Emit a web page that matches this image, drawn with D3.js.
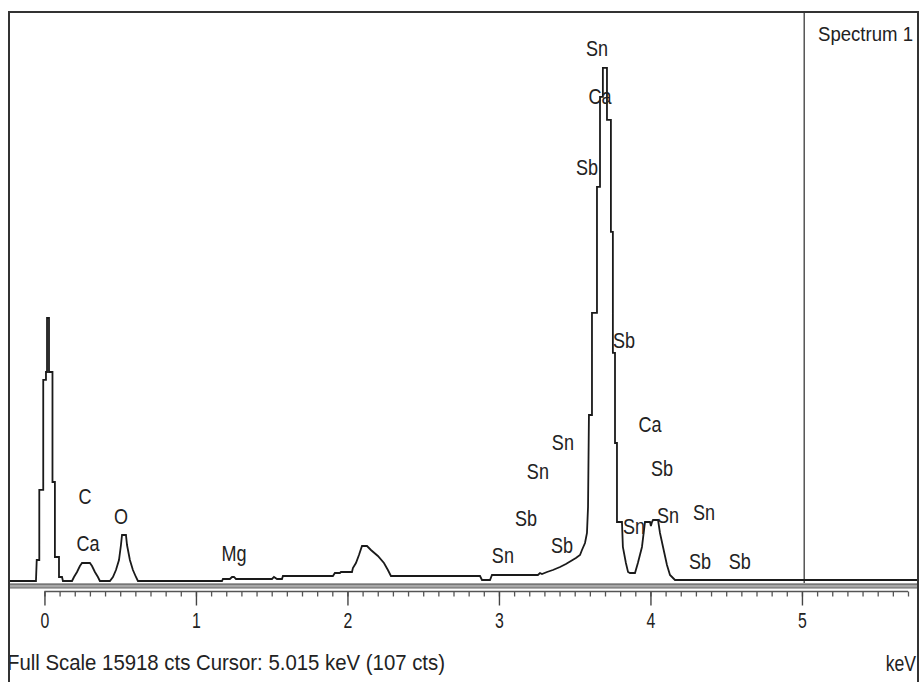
<!DOCTYPE html>
<html>
<head>
<meta charset="utf-8">
<script src="https://cdn.jsdelivr.net/npm/d3@7"></script>
<style>
  html, body { margin: 0; padding: 0; background: #fff; }
  svg { display: block; }
  text { font-family: "Liberation Sans", Arial, sans-serif; fill: #222; }
</style>
</head>
<body>
<svg id="chart" width="921" height="682"></svg>
<script>
// ---- Data ----
const energyKeV = [-0.228,-0.056,-0.051,-0.034,-0.034,-0.008,-0.008,0.010,0.010,0.017,0.017,0.030,0.030,0.053,0.053,0.069,0.069,0.096,0.096,0.116,0.122,
  0.182,0.195,0.215,0.234,0.248,0.300,0.314,0.333,0.353,0.366,
  0.432,0.452,0.472,0.492,0.505,0.512,0.538,0.545,0.564,0.584,0.604,0.617,
  1.172,1.178,1.224,1.238,1.251,1.264,1.502,1.515,1.535,1.568,1.574,1.904,1.917,1.950,1.957,2.030,
  2.036,2.056,2.076,2.096,2.129,2.155,2.201,2.241,2.267,2.287,
  2.875,2.888,2.941,2.954,3.257,3.271,3.284,3.317,3.356,3.403,3.442,3.475,3.508,3.535,3.548,3.568,3.581,
  3.588,3.594,3.614,3.614,3.647,3.647,3.667,3.667,3.686,3.686,3.713,3.713,3.739,3.739,3.752,3.752,3.766,3.766,3.779,3.779,3.812,
  3.818,3.838,3.852,3.865,3.898,3.917,3.944,3.964,3.997,4.003,4.010,4.017,4.050,4.063,4.083,4.109,4.129,4.162,5.766];
const counts = [28,28,614,614,2570,2570,5642,5642,5865,5865,7373,7373,5865,5865,2793,2793,698,698,140,140,28,
  28,140,279,447,531,531,447,279,140,28,
  28,140,335,614,1033,1313,1313,1033,614,335,140,28,
  28,84,84,140,140,84,84,140,84,84,168,168,251,251,279,279,
  391,531,754,1005,1005,894,726,531,335,168,
  168,56,56,196,196,251,223,279,335,419,503,587,670,754,894,1089,1369,
  2095,4664,4664,7513,7513,11032,11032,13546,13546,14355,14355,12903,12903,9775,9775,6396,6396,3882,3882,1676,1676,
  978,531,279,251,251,531,978,1676,1676,1564,1676,1732,1732,1369,978,475,196,56,56];

const labelText   = ["Sn","Ca","Sb","Sb","Ca","Sb","Sn","Sn","Sn","Sb","Sb","Sn","Sn","Sb","Sb","Sn","C","Ca","O","Mg"];
const labelKeV    = [3.647,3.667,3.581,3.825,3.997,4.076,4.116,3.891,4.353,4.327,4.590,3.422,3.257,3.178,3.416,3.026,0.267,0.287,0.505,1.251];
const labelCounts = [14717,13377,11394,6563,4217,2988,1676,1368,1759,391,391,3714,2904,1592,838,559,2206,894,1648,614];

const majorTicks = [0,1,2,3,4,5];
const minorTicks = d3.range(0, 58).map(i => +(i * 0.1).toFixed(1));
const fullScale = 15918;
const cursorKeV = 5.015;
const footerText = "Full Scale 15918 cts  Cursor: 5.015 keV (107 cts)";
const titleText = "Spectrum 1";
const unitText = "keV";

// ---- Drawing ----
(function () {
const svg = d3.select("#chart");
const padL = 9, padR = 918, padT = 12, baseY = 582;

const x = d3.scaleLinear().domain([-0.234, 5.766]).range([padL, padR]);
const y = d3.scaleLinear().domain([0, fullScale]).range([baseY, padT]);

// axis band under the spectrum
svg.append("rect").attr("x", padL).attr("y", 584).attr("width", padR - padL).attr("height", 4)
  .attr("fill", "#a8a8a8");
svg.append("line").attr("x1", padL).attr("x2", padR).attr("y1", 584).attr("y2", 584)
  .attr("stroke", "#444").attr("stroke-width", 1.2);
svg.append("line").attr("x1", padL).attr("x2", padR).attr("y1", 588).attr("y2", 588)
  .attr("stroke", "#666").attr("stroke-width", 1);

// ticks
const axisY = 591.5;
const minorAxis = d3.axisBottom(x).tickValues(minorTicks).tickSize(5).tickFormat("");
const majorAxis = d3.axisBottom(x).tickValues(majorTicks).tickSize(14).tickFormat(d3.format("d"));
const gMinor = svg.append("g").attr("transform", `translate(0,${axisY})`).call(minorAxis);
gMinor.select(".domain").remove();
gMinor.selectAll("line").attr("stroke", "#555").attr("stroke-width", 1.3);
const gMajor = svg.append("g").attr("transform", `translate(0,${axisY})`).call(majorAxis);
gMajor.select(".domain").remove();
gMajor.selectAll("line").attr("stroke", "#444").attr("stroke-width", 1.4);
gMajor.selectAll("text")
  .attr("y", 37).attr("dy", 0)
  .attr("font-size", 22)
  .attr("fill", "#1c1c1c")
  .attr("font-family", "Liberation Sans, Arial, sans-serif")
  .attr("transform", "scale(0.72,1)");
svg.append("line")
  .attr("x1", x(0)).attr("x2", x(5.7))
  .attr("y1", axisY).attr("y2", axisY)
  .attr("stroke", "#555").attr("stroke-width", 1.3);

// cursor line
svg.append("line")
  .attr("x1", x(cursorKeV)).attr("x2", x(cursorKeV))
  .attr("y1", padT).attr("y2", 583)
  .attr("stroke", "#555").attr("stroke-width", 1.5);

// spectrum
const pts = energyKeV.map((e, i) => [e, counts[i]]);
const line = d3.line().x(d => x(d[0])).y(d => y(d[1]));
svg.append("path").datum(pts)
  .attr("d", line)
  .attr("fill", "none")
  .attr("stroke", "#1a1a1a")
  .attr("stroke-width", 1.8)
  .attr("stroke-linejoin", "miter");

// element labels
svg.append("g").selectAll("text")
  .data(labelText.map((t, i) => ({ t, e: labelKeV[i], c: labelCounts[i] })))
  .join("text")
  .attr("transform", d => `translate(${x(d.e)},${y(d.c) + 1}) scale(0.82,1)`)
  .attr("text-anchor", "middle")
  .attr("font-size", 22)
  .attr("fill", "#222")
  .text(d => d.t);

// title
svg.append("text")
  .attr("x", 818).attr("y", 41)
  .attr("font-size", 20)
  .attr("textLength", 95).attr("lengthAdjust", "spacingAndGlyphs")
  .attr("fill", "#1c1c1c")
  .text(titleText);

// footer
svg.append("text")
  .attr("x", 7).attr("y", 670)
  .attr("font-size", 22)
  .attr("textLength", 438).attr("lengthAdjust", "spacingAndGlyphs")
  .attr("fill", "#1c1c1c")
  .text(footerText);

svg.append("text")
  .attr("transform", "translate(916,671) scale(0.8,1)")
  .attr("text-anchor", "end")
  .attr("font-size", 22)
  .attr("fill", "#1c1c1c")
  .text(unitText);

// frame
svg.append("path")
  .attr("d", `M${padL},682 V${padT} H${padR} V682`)
  .attr("fill", "none")
  .attr("stroke", "#333")
  .attr("stroke-width", 2);
})();
</script>
</body>
</html>
